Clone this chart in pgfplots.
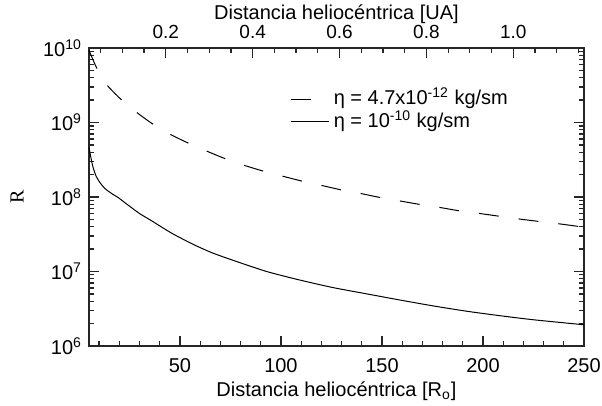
\documentclass[border=0pt]{standalone}
\usepackage{fontspec}
\setmainfont{Liberation Sans}
\newfontfamily\seriffont{Liberation Serif}
\usepackage{pgfplots}
\pgfplotsset{compat=1.18}

\pgfplotstableread{
x y
5 9.33e9
8.5 5.62e9
13.4 3.31e9
20.3 2.11e9
28.1 1.40e9
36.0 9.77e8
44.6 7.08e8
53.6 5.37e8
62.9 4.17e8
71.9 3.31e8
81.3 2.69e8
90.9 2.24e8
100.6 1.91e8
110.2 1.64e8
120.1 1.43e8
129.6 1.25e8
139.8 1.11e8
149 9.85e7
158.9 8.85e7
168.8 7.94e7
179.1 7.20e7
188.6 6.50e7
198.5 6.00e7
208.4 5.50e7
218.3 5.05e7
228.2 4.68e7
238.1 4.35e7
248 4.00e7
250 3.94e7
}\dashdata

\pgfplotstableread{
x y
5 4.68e8
6 3.31e8
7 2.51e8
8.5 1.91e8
10.5 1.55e8
13 1.29e8
16.5 1.10e8
19.5 9.8e7
24.4 7.76e7
30 6.0e7
36.0 4.79e7
45.9 3.27e7
56.6 2.31e7
66 1.78e7
76.4 1.41e7
92.9 1.0e7
109.4 7.67e6
125.9 6.07e6
142.4 5.01e6
158.9 4.14e6
175.4 3.45e6
191.9 2.93e6
208.4 2.55e6
224.9 2.25e6
248 1.95e6
250 1.92e6
}\soliddata

\begin{document}
\begin{tikzpicture}
\begin{axis}[
  scale only axis,
  width=247.5pt, height=149pt,
  xmin=5, xmax=250,
  ymode=log, ymin=1e6, ymax=1e10,
  xtick={50,100,150,200,250},
  minor xtick={10,20,30,40,60,70,80,90,110,120,130,140,160,170,180,190,210,220,230,240},
  xtick pos=left,
  ytick={1e6,1e7,1e8,1e9,1e10},
  yticklabels={10\textsuperscript{6},10\textsuperscript{7},10\textsuperscript{8},10\textsuperscript{9},10\textsuperscript{10}},
  ytick pos=both, yticklabel pos=left,
  tick align=inside,
  major tick length=5pt, minor tick length=2.5pt,
  axis line style={line width=0.8pt, black!85},
  every tick/.style={line width=0.6pt, black!85},
  /pgf/number format/assume math mode=true,
  xticklabel style={font=\fontsize{10}{12}\selectfont, yshift=-2.8pt},
  yticklabel style={font=\fontsize{10}{12}\selectfont},
  xlabel={Distancia heliocéntrica [R\textsubscript{o}]},
  xlabel style={at={(axis description cs:0.5,0)}, anchor=base, yshift=-25.35pt, font=\fontsize{10}{12}\selectfont},
  ylabel={\seriffont R},
  ylabel style={at={(axis description cs:-0.1455,0.5)}, anchor=center, font=\fontsize{10}{12}\selectfont},
  legend style={at={(axis description cs:0.406,0.79)}, anchor=west, draw=none, fill=none,
    inner sep=0pt, row sep=1.75pt, font=\fontsize{10}{12}\selectfont,
    nodes={inner sep=0pt, text height=7.5pt, text depth=2pt},
    /tikz/every odd column/.append style={column sep=2.2pt}},
  legend cell align=left,
  legend image code/.code={\draw[#1] (0pt,0pt) -- (19pt,0pt);},
]
\addplot[black, line width=0.5pt, smooth, tension=0.4, dash pattern=on 10pt off 10pt] table[x=x,y=y] {\dashdata};
\addlegendentry{η = 4.7x10\textsuperscript{-12} kg/sm}
\addplot[black, line width=0.5pt, smooth, tension=0.4] table[x=x,y=y] {\soliddata};
\addlegendentry{η = 10\textsuperscript{-10} kg/sm}
\end{axis}
\begin{axis}[
  scale only axis,
  width=247.5pt, height=149pt,
  xmin=0.0232558, xmax=1.1627907,
  ymin=0, ymax=1,
  axis x line*=top,
  axis y line=none,
  xtick={0.2,0.4,0.6,0.8,1.0},
  minor xtick={0.05,0.1,0.15,0.25,0.3,0.35,0.45,0.5,0.55,0.65,0.7,0.75,0.85,0.9,0.95,1.05,1.1,1.15},
  tick align=inside,
  major tick length=5pt, minor tick length=2.5pt,
  axis line style={line width=0.8pt, black!85, -},
  every tick/.style={line width=0.6pt, black!85},
  /pgf/number format/assume math mode=true,
  xticklabel style={font=\fontsize{9.5}{11}\selectfont, yshift=1.3pt,
    /pgf/number format/fixed, /pgf/number format/precision=1, /pgf/number format/fixed zerofill},
  xlabel={Distancia heliocéntrica [UA]},
  xlabel style={at={(axis description cs:0.5,1)}, anchor=base, yshift=14.35pt, font=\fontsize{10}{12}\selectfont},
]
\end{axis}
\pgfresetboundingbox
\path (-44.5pt,-30pt) rectangle (256.5pt,173pt);
\end{tikzpicture}
\end{document}
